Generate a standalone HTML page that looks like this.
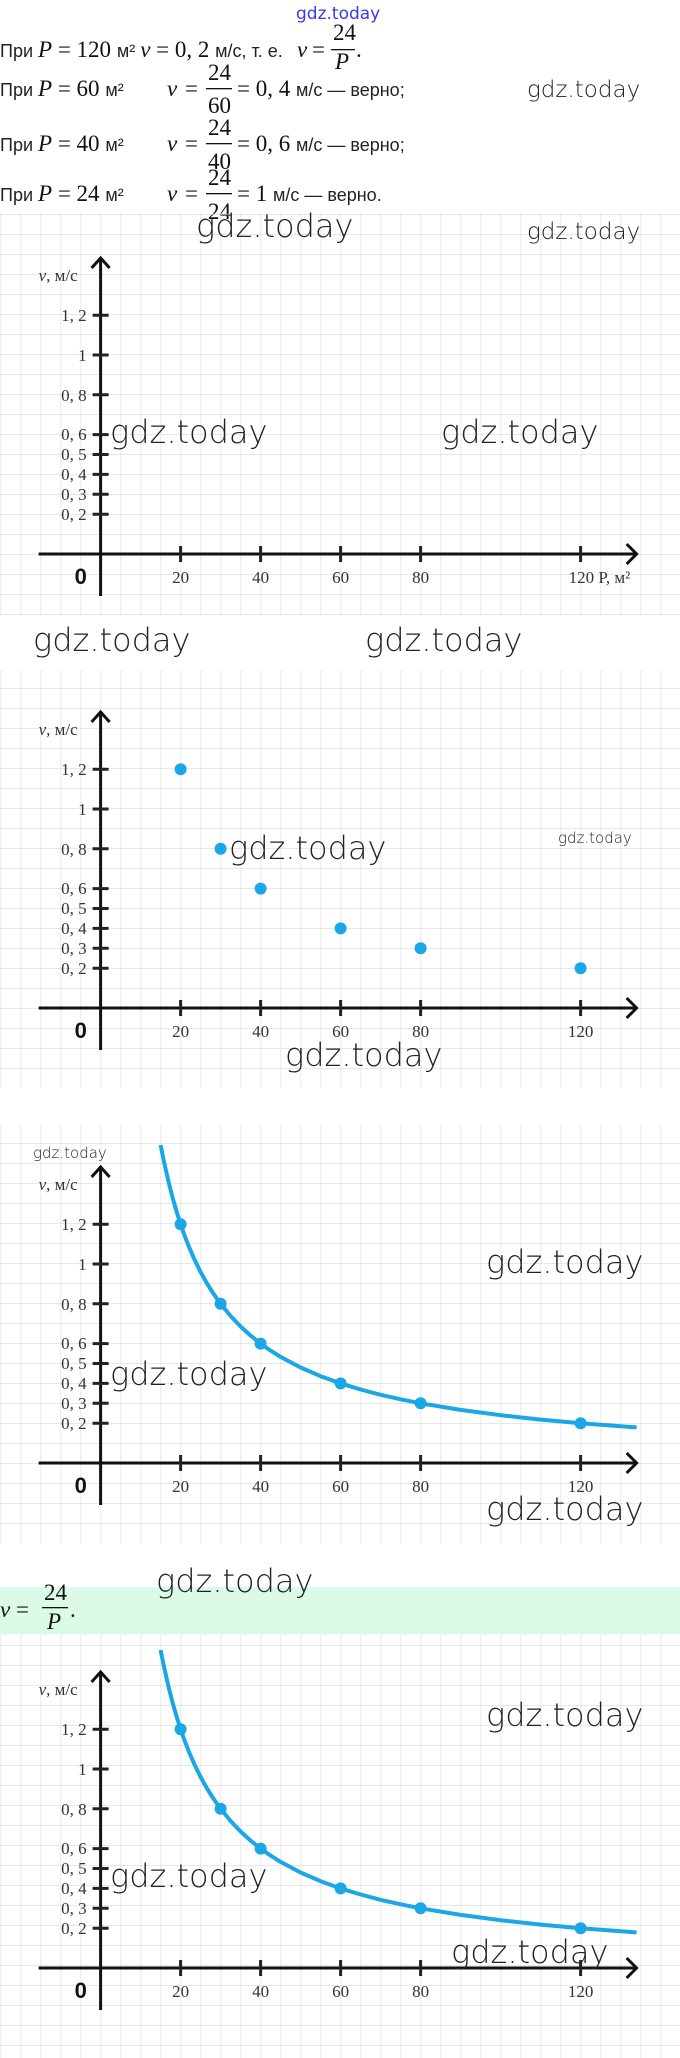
<!DOCTYPE html>
<html><head><meta charset="utf-8"><style>
html,body{margin:0;padding:0;background:#fff;width:680px;height:2058px;overflow:hidden}
svg{display:block}
.s{font-family:"Liberation Sans",sans-serif;font-size:18px;fill:#222}
.m{font-family:"Liberation Serif","DejaVu Serif",serif;font-size:23px;fill:#111}
.i{font-style:italic}
.w{font-family:"DejaVu Sans","Liberation Sans",sans-serif;font-weight:300;fill:#222}
.t{font-family:"Liberation Serif",serif;font-size:17px;fill:#333}
</style></head><body>
<svg width="680" height="2058" viewBox="0 0 680 2058" xmlns="http://www.w3.org/2000/svg">
<defs>
<pattern id="g1" patternUnits="userSpaceOnUse" width="20" height="20" x="0.6" y="14"><path d="M0 0H20M0 0V20" stroke="#d9d9d9" stroke-width="1.2" fill="none"/></pattern>
<pattern id="g2" patternUnits="userSpaceOnUse" width="20" height="20" x="0.6" y="8"><path d="M0 0H20M0 0V20" stroke="#d9d9d9" stroke-width="1.2" fill="none"/></pattern>
<pattern id="g3" patternUnits="userSpaceOnUse" width="20" height="20" x="0.6" y="3"><path d="M0 0H20M0 0V20" stroke="#d9d9d9" stroke-width="1.2" fill="none"/></pattern>
<pattern id="g4" patternUnits="userSpaceOnUse" width="20" height="20" x="0.6" y="5"><path d="M0 0H20M0 0V20" stroke="#d9d9d9" stroke-width="1.2" fill="none"/></pattern>
<g id="axes">
<path d="M-62 0H536M526 -10L536 0L526 10M0 42V-296M-9 -286L0 -296L9 -286" stroke="#111" stroke-width="3" fill="none"/>
<path d="M-8 -39.8H8M-8 -59.7H8M-8 -79.6H8M-8 -99.5H8M-8 -119.4H8M-8 -159.2H8M-8 -199H8M-8 -238.8H8M80 -8V8M160 -8V8M240 -8V8M320 -8V8M480 -8V8" stroke="#222" stroke-width="3"/>
<g class="t" text-anchor="end">
<text x="-14" y="-34">0, 2</text><text x="-14" y="-54">0, 3</text><text x="-14" y="-74">0, 4</text><text x="-14" y="-94">0, 5</text><text x="-14" y="-114">0, 6</text><text x="-14" y="-153">0, 8</text><text x="-14" y="-193">1</text><text x="-14" y="-233">1, 2</text>
</g>
<text x="-62" y="-273" class="t"><tspan font-style="italic">ν</tspan>, м/с</text>
<g class="t" text-anchor="middle"><text x="80" y="29">20</text><text x="160" y="29">40</text><text x="240" y="29">60</text><text x="320" y="29">80</text></g>
<text x="-26" y="30" font-family="Liberation Sans,sans-serif" font-weight="bold" font-size="22" fill="#111">0</text>
</g>
<g id="pts" fill="#1ba6e6"><circle cx="80" cy="-238.8" r="6"/><circle cx="120" cy="-159.2" r="6"/><circle cx="160" cy="-119.4" r="6"/><circle cx="240" cy="-79.6" r="6"/><circle cx="320" cy="-59.7" r="6"/><circle cx="480" cy="-39.8" r="6"/></g>
<polyline id="crv" fill="none" stroke="#1ba6e6" stroke-width="4" stroke-linejoin="round" points="60,-318 62,-308 64,-298.5 68,-281 72,-265.3 76,-251.4 80,-238.8 84,-227.4 88,-217.1 94,-203.2 100,-191 106,-180.2 112,-170.6 120,-159.2 130,-147 140,-136.5 150,-127.4 160,-119.4 170,-112.4 180,-106.1 200,-95.5 220,-86.8 240,-79.6 260,-73.5 280,-68.2 300,-63.7 320,-59.7 360,-53.1 400,-47.8 440,-43.4 480,-39.8 536,-35.6"/>
</defs>

<text x="296" y="19" font-family="DejaVu Sans,sans-serif" font-size="17" fill="#3a3ae8">gdz.today</text>

<text y="57"><tspan class="s" x="0">При </tspan><tspan class="m i">P</tspan><tspan class="m"> = 120 </tspan><tspan class="s">м² </tspan><tspan class="m i">ν</tspan><tspan class="m"> = 0, 2 </tspan><tspan class="s">м/с, т. е. </tspan></text>
<text x="297" y="57" class="m i">ν</text><text x="312" y="57" class="m">=</text>
<text x="333" y="40" class="m">24</text><rect x="331" y="49" width="24" height="1.3" fill="#111"/><text x="335" y="69" class="m i">P</text><text x="356" y="57" class="m">.</text>

<text y="96"><tspan class="s" x="0">При </tspan><tspan class="m i">P</tspan><tspan class="m"> = 60 </tspan><tspan class="s">м² </tspan></text>
<text x="167" y="96" class="m i">ν</text><text x="185" y="96" class="m">=</text>
<text x="208" y="80" class="m">24</text><rect x="206" y="88" width="26" height="1.3" fill="#111"/><text x="208" y="113" class="m">60</text>
<text x="237" y="96"><tspan class="m">= 0, 4 </tspan><tspan class="s">м/с — верно;</tspan></text>

<text y="151"><tspan class="s" x="0">При </tspan><tspan class="m i">P</tspan><tspan class="m"> = 40 </tspan><tspan class="s">м² </tspan></text>
<text x="167" y="151" class="m i">ν</text><text x="185" y="151" class="m">=</text>
<text x="208" y="135" class="m">24</text><rect x="206" y="143" width="26" height="1.3" fill="#111"/><text x="208" y="169" class="m">40</text>
<text x="237" y="151"><tspan class="m">= 0, 6 </tspan><tspan class="s">м/с — верно;</tspan></text>

<text y="201"><tspan class="s" x="0">При </tspan><tspan class="m i">P</tspan><tspan class="m"> = 24 </tspan><tspan class="s">м² </tspan></text>
<text x="167" y="201" class="m i">ν</text><text x="185" y="201" class="m">=</text>
<text x="208" y="185" class="m">24</text><rect x="206" y="193" width="26" height="1.3" fill="#111"/><text x="208" y="219" class="m">24</text>
<text x="237" y="201"><tspan class="m">= 1 </tspan><tspan class="s">м/с — верно.</tspan></text>

<rect x="0" y="213" width="680" height="402" fill="url(#g1)"/>
<rect x="0" y="670" width="680" height="418" fill="url(#g2)"/>
<rect x="0" y="1125" width="680" height="418" fill="url(#g3)"/>
<rect x="0" y="1634" width="680" height="424" fill="url(#g4)"/>
<rect x="0" y="1587" width="680" height="47" fill="#dcfbe6"/>

<g transform="translate(100.6,554)"><use href="#axes"/><text x="468" y="29" class="t">120 P,  м²</text></g>
<g transform="translate(100.6,1008)"><use href="#axes"/><text x="480" y="29" class="t" text-anchor="middle">120</text><use href="#pts"/></g>
<g transform="translate(100.6,1463)"><use href="#axes"/><text x="480" y="29" class="t" text-anchor="middle">120</text><use href="#crv"/><use href="#pts"/></g>
<g transform="translate(100.6,1968)"><use href="#axes"/><text x="480" y="29" class="t" text-anchor="middle">120</text><use href="#crv"/><use href="#pts"/></g>

<text x="0" y="1617"><tspan class="m i">ν</tspan><tspan class="m"> =</tspan></text>
<text x="44" y="1600" class="m">24</text><rect x="42" y="1607" width="26" height="1.3" fill="#111"/><text x="47" y="1629" class="m i">P</text><text x="70" y="1617" class="m">.</text>

<g class="w">
<text x="527" y="97" font-size="23">gdz.today</text>
<text x="196" y="237" font-size="32">gdz.today</text>
<text x="527" y="239" font-size="23">gdz.today</text>
<text x="110" y="443" font-size="32">gdz.today</text>
<text x="441" y="443" font-size="32">gdz.today</text>
<text x="33" y="651" font-size="32">gdz.today</text>
<text x="365" y="651" font-size="32">gdz.today</text>
<text x="229" y="859" font-size="32">gdz.today</text>
<text x="558" y="843" font-size="15">gdz.today</text>
<text x="285" y="1066" font-size="32">gdz.today</text>
<text x="33" y="1158" font-size="15">gdz.today</text>
<text x="486" y="1273" font-size="32">gdz.today</text>
<text x="110" y="1385" font-size="32">gdz.today</text>
<text x="486" y="1520" font-size="32">gdz.today</text>
<text x="156" y="1592" font-size="32">gdz.today</text>
<text x="486" y="1726" font-size="32">gdz.today</text>
<text x="110" y="1887" font-size="32">gdz.today</text>
<text x="451" y="1963" font-size="32">gdz.today</text>
</g>
</svg>
</body></html>
